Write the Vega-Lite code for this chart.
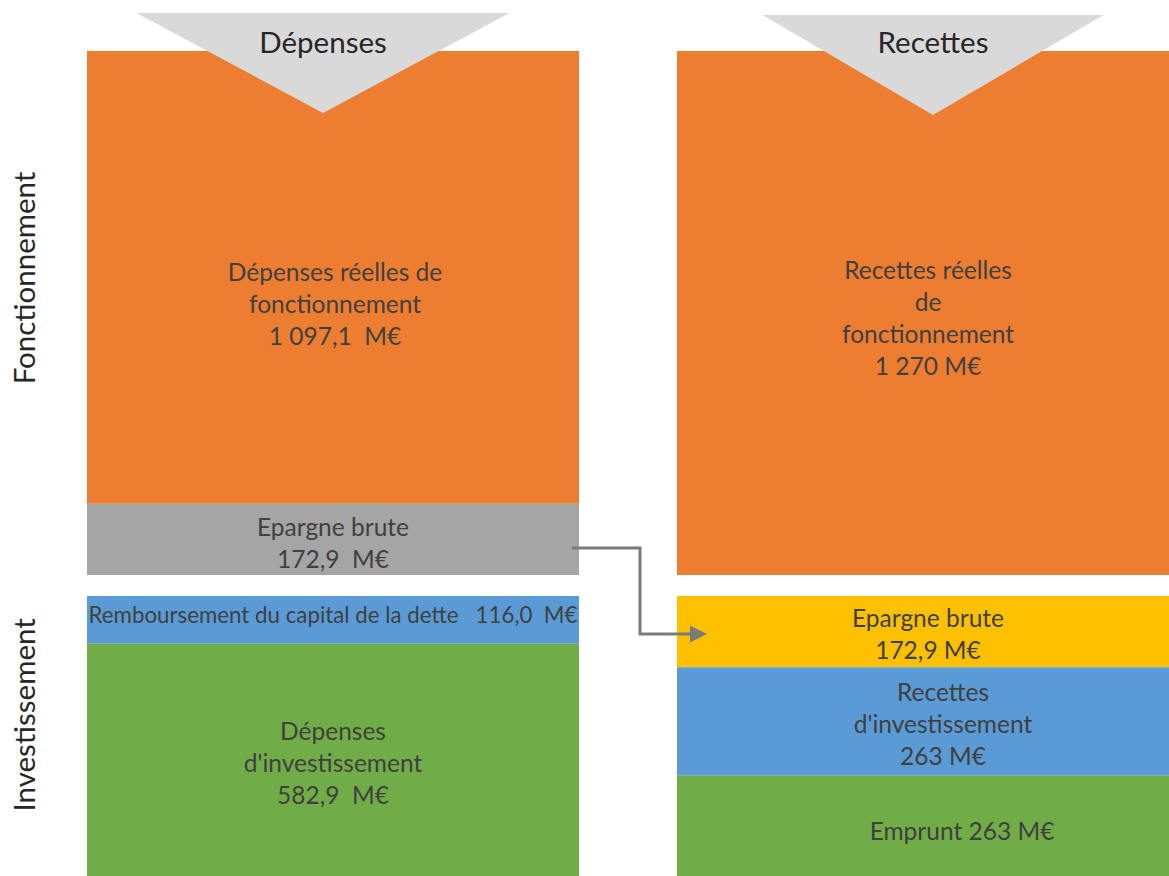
{
  "$schema": "https://vega.github.io/schema/vega-lite/v6.json",
  "width": 1082,
  "height": 825,
  "autosize": {"type": "none"},
  "padding": {"left": 87, "top": 51, "right": 0, "bottom": 0},
  "background": "white",
  "config": {"view": {"stroke": null}, "font": "Lato"},
  "datasets": {
    "postes": [
      {"side": "Dépenses", "section": "Fonctionnement", "poste": "Dépenses réelles de fonctionnement", "value": 1097.1, "rank": 1, "label": "Dépenses réelles de\nfonctionnement\n1 097,1 \u00a0M€"},
      {"side": "Dépenses", "section": "Fonctionnement", "poste": "Epargne brute", "value": 172.9, "rank": 2, "label": "Epargne brute\n172,9 \u00a0M€"},
      {"side": "Recettes", "section": "Fonctionnement", "poste": "Recettes réelles de fonctionnement", "value": 1270, "rank": 1, "label": "Recettes réelles\nde\nfonctionnement\n1 270 M€"},
      {"side": "Dépenses", "section": "Investissement", "poste": "Remboursement du capital de la dette", "value": 116.0, "rank": 1, "label": "Remboursement du capital de la dette \u00a0\u00a0116,0 \u00a0M€"},
      {"side": "Dépenses", "section": "Investissement", "poste": "Dépenses d'investissement", "value": 582.9, "rank": 2, "label": "Dépenses\nd'investissement\n582,9 \u00a0M€"},
      {"side": "Recettes", "section": "Investissement", "poste": "Epargne brute", "value": 172.9, "rank": 1, "label": "Epargne brute\n172,9 M€"},
      {"side": "Recettes", "section": "Investissement", "poste": "Recettes d'investissement", "value": 263, "rank": 2, "label": "Recettes\nd'investissement\n263 M€"},
      {"side": "Recettes", "section": "Investissement", "poste": "Emprunt", "value": 263, "rank": 3, "label": "Emprunt 263 M€"}
    ],
    "entetes": [{"side": "Dépenses"}, {"side": "Recettes"}],
    "sections": [{"section": "Fonctionnement"}, {"section": "Investissement"}],
    "flux": [{"from": "Dépenses", "to": "Recettes", "poste": "Epargne brute", "value": 172.9}]
  },
  "layer": [
    {
      "layer": [
        {
          "data": {"name": "postes"},
          "transform": [{"filter": "datum.section === 'Fonctionnement'"}],
          "mark": {"type": "bar"},
          "encoding": {
            "x": {"field": "side", "type": "nominal", "scale": {"domain": ["Dépenses", "Recettes"], "paddingInner": 0.1661, "paddingOuter": 0}, "axis": null},
            "y": {"field": "value", "type": "quantitative", "stack": "zero", "scale": {"domain": [-729.5, 1270], "nice": false, "zero": false}, "axis": null},
            "order": {"field": "rank", "type": "quantitative", "sort": "descending"},
            "color": {
              "condition": {"test": "datum.side === 'Recettes' && datum.poste === 'Epargne brute'", "value": "#FFC000"},
              "field": "poste", "type": "nominal", "legend": null,
              "scale": {
                "domain": ["Dépenses réelles de fonctionnement", "Epargne brute", "Recettes réelles de fonctionnement", "Remboursement du capital de la dette", "Dépenses d'investissement", "Recettes d'investissement", "Emprunt"],
                "range": ["#ED7D31", "#A5A5A5", "#ED7D31", "#5B9BD5", "#70AD47", "#5B9BD5", "#70AD47"]
              }
            }
          }
        },
        {
          "data": {"name": "entetes"},
          "mark": {"type": "point", "filled": true, "opacity": 1, "size": 4, "strokeWidth": 0, "color": "#D9D9D9"},
          "encoding": {
            "x": {"field": "side", "type": "nominal", "scale": {"domain": ["Dépenses", "Recettes"], "paddingInner": 0.1661, "paddingOuter": 0}, "axis": null},
            "y": {"datum": 1270, "type": "quantitative", "scale": {"domain": [-729.5, 1270], "nice": false, "zero": false}, "axis": null},
            "shape": {"condition": {"test": "datum.side === 'Dépenses'", "value": "M-196.5,-38L176.5,-38L-10,62Z"}, "value": "M-160.5,-36L180.5,-36L10,64Z"}
          }
        },
        {
          "data": {"name": "entetes"},
          "transform": [{"filter": "datum.side === 'Dépenses'"}],
          "mark": {"type": "text", "fontSize": 29.5, "color": "#262626", "baseline": "alphabetic", "align": "center", "dx": -10, "dy": 2},
          "encoding": {
            "x": {"field": "side", "type": "nominal", "scale": {"domain": ["Dépenses", "Recettes"], "paddingInner": 0.1661, "paddingOuter": 0}, "axis": null},
            "y": {"datum": 1270, "type": "quantitative", "scale": {"domain": [-729.5, 1270], "nice": false, "zero": false}, "axis": null},
            "text": {"field": "side", "type": "nominal"}
          }
        },
        {
          "data": {"name": "entetes"},
          "transform": [{"filter": "datum.side === 'Recettes'"}],
          "mark": {"type": "text", "fontSize": 29.5, "color": "#262626", "baseline": "alphabetic", "align": "center", "dx": 10, "dy": 2},
          "encoding": {
            "x": {"field": "side", "type": "nominal", "scale": {"domain": ["Dépenses", "Recettes"], "paddingInner": 0.1661, "paddingOuter": 0}, "axis": null},
            "y": {"datum": 1270, "type": "quantitative", "scale": {"domain": [-729.5, 1270], "nice": false, "zero": false}, "axis": null},
            "text": {"field": "side", "type": "nominal"}
          }
        },
        {
          "data": {"name": "postes"},
          "transform": [{"filter": "datum.section === 'Fonctionnement'"}],
          "encoding": {
            "x": {"field": "side", "type": "nominal", "scale": {"domain": ["Dépenses", "Recettes"], "paddingInner": 0.1661, "paddingOuter": 0}, "axis": null},
            "y": {"field": "value", "type": "quantitative", "stack": "zero", "bandPosition": 0.5, "scale": {"domain": [-729.5, 1270], "nice": false, "zero": false}, "axis": null},
            "order": {"field": "rank", "type": "quantitative", "sort": "descending"},
            "detail": {"field": "poste", "type": "nominal"},
            "text": {"field": "label", "type": "nominal"}
          },
          "layer": [
            {
              "mark": {"type": "text", "fontSize": 24.5, "lineHeight": 32, "lineBreak": "\n", "color": "#404040", "align": "center", "baseline": "middle", "dx": 2, "dy": -3.5},
              "encoding": {"opacity": {"condition": {"test": "datum.poste === 'Dépenses réelles de fonctionnement'", "value": 1}, "value": 0}}
            },
            {
              "mark": {"type": "text", "fontSize": 24.5, "lineHeight": 32, "lineBreak": "\n", "color": "#404040", "align": "center", "baseline": "middle", "dx": 0, "dy": -10},
              "encoding": {"opacity": {"condition": {"test": "datum.poste === 'Epargne brute'", "value": 1}, "value": 0}}
            },
            {
              "mark": {"type": "text", "fontSize": 24.5, "lineHeight": 32, "lineBreak": "\n", "color": "#404040", "align": "center", "baseline": "middle", "dx": 5, "dy": -41},
              "encoding": {"opacity": {"condition": {"test": "datum.poste === 'Recettes réelles de fonctionnement'", "value": 1}, "value": 0}}
            }
          ]
        },
        {
          "data": {"name": "sections"},
          "transform": [{"filter": "datum.section === 'Fonctionnement'"}],
          "mark": {"type": "text", "fontSize": 29.5, "color": "#262626", "angle": 270, "align": "center", "baseline": "middle", "xOffset": -61},
          "encoding": {
            "x": {"datum": "Dépenses", "type": "nominal", "bandPosition": 0, "scale": {"domain": ["Dépenses", "Recettes"], "paddingInner": 0.1661, "paddingOuter": 0}, "axis": null},
            "y": {"datum": 720, "type": "quantitative", "scale": {"domain": [-729.5, 1270], "nice": false, "zero": false}, "axis": null},
            "text": {"field": "section", "type": "nominal"}
          }
        }
      ]
    },
    {
      "layer": [
        {
          "data": {"name": "postes"},
          "transform": [{"filter": "datum.section === 'Investissement'"}],
          "mark": {"type": "bar"},
          "encoding": {
            "x": {"field": "side", "type": "nominal", "scale": {"domain": ["Dépenses", "Recettes"], "paddingInner": 0.1661, "paddingOuter": 0}, "axis": null},
            "y": {"field": "value", "type": "quantitative", "stack": "zero", "scale": {"domain": [-1320.9, 678.6], "reverse": true, "nice": false, "zero": false}, "axis": null},
            "order": {"field": "rank", "type": "quantitative", "sort": "ascending"},
            "color": {
              "condition": {"test": "datum.side === 'Recettes' && datum.poste === 'Epargne brute'", "value": "#FFC000"},
              "field": "poste", "type": "nominal", "legend": null,
              "scale": {
                "domain": ["Dépenses réelles de fonctionnement", "Epargne brute", "Recettes réelles de fonctionnement", "Remboursement du capital de la dette", "Dépenses d'investissement", "Recettes d'investissement", "Emprunt"],
                "range": ["#ED7D31", "#A5A5A5", "#ED7D31", "#5B9BD5", "#70AD47", "#5B9BD5", "#70AD47"]
              }
            }
          }
        },
        {
          "data": {"name": "postes"},
          "transform": [{"filter": "datum.section === 'Investissement'"}],
          "encoding": {
            "x": {"field": "side", "type": "nominal", "scale": {"domain": ["Dépenses", "Recettes"], "paddingInner": 0.1661, "paddingOuter": 0}, "axis": null},
            "y": {"field": "value", "type": "quantitative", "stack": "zero", "bandPosition": 0.5, "scale": {"domain": [-1320.9, 678.6], "reverse": true, "nice": false, "zero": false}, "axis": null},
            "order": {"field": "rank", "type": "quantitative", "sort": "ascending"},
            "detail": {"field": "poste", "type": "nominal"},
            "text": {"field": "label", "type": "nominal"}
          },
          "layer": [
            {
              "mark": {"type": "text", "fontSize": 22.3, "color": "#404040", "align": "center", "baseline": "middle", "dx": 0, "dy": -4},
              "encoding": {"opacity": {"condition": {"test": "datum.poste === 'Remboursement du capital de la dette'", "value": 1}, "value": 0}}
            },
            {
              "mark": {"type": "text", "fontSize": 24.5, "lineHeight": 32, "lineBreak": "\n", "color": "#404040", "align": "center", "baseline": "middle", "dx": 0, "dy": -31},
              "encoding": {"opacity": {"condition": {"test": "datum.poste === \"Dépenses d'investissement\"", "value": 1}, "value": 0}}
            },
            {
              "mark": {"type": "text", "fontSize": 24.5, "lineHeight": 32, "lineBreak": "\n", "color": "#404040", "align": "center", "baseline": "middle", "dx": 5, "dy": -12},
              "encoding": {"opacity": {"condition": {"test": "datum.poste === 'Epargne brute'", "value": 1}, "value": 0}}
            },
            {
              "mark": {"type": "text", "fontSize": 24.5, "lineHeight": 32, "lineBreak": "\n", "color": "#404040", "align": "center", "baseline": "middle", "dx": 20, "dy": -27.5},
              "encoding": {"opacity": {"condition": {"test": "datum.poste === \"Recettes d'investissement\"", "value": 1}, "value": 0}}
            },
            {
              "mark": {"type": "text", "fontSize": 24.5, "color": "#404040", "align": "center", "baseline": "middle", "dx": 39, "dy": 3},
              "encoding": {"opacity": {"condition": {"test": "datum.poste === 'Emprunt'", "value": 1}, "value": 0}}
            }
          ]
        },
        {
          "data": {"name": "sections"},
          "transform": [{"filter": "datum.section === 'Investissement'"}],
          "mark": {"type": "text", "fontSize": 29.5, "color": "#262626", "angle": 270, "align": "center", "baseline": "middle", "xOffset": -61},
          "encoding": {
            "x": {"datum": "Dépenses", "type": "nominal", "bandPosition": 0, "scale": {"domain": ["Dépenses", "Recettes"], "paddingInner": 0.1661, "paddingOuter": 0}, "axis": null},
            "y": {"datum": 288, "type": "quantitative", "scale": {"domain": [-1320.9, 678.6], "reverse": true, "nice": false, "zero": false}, "axis": null},
            "text": {"field": "section", "type": "nominal"}
          }
        },
        {
          "data": {"name": "flux"},
          "mark": {"type": "point", "filled": true, "opacity": 1, "size": 4, "strokeWidth": 0, "color": "#7A7A7A",
                   "shape": "M-105,-49.5L-35.5,-49.5L-35.5,36.5L13,36.5L13,29.5L30,38L13,46.5L13,39.5L-38.5,39.5L-38.5,-46.5L-105,-46.5Z"},
          "encoding": {
            "x": {"field": "to", "type": "nominal", "bandPosition": 0, "scale": {"domain": ["Dépenses", "Recettes"], "paddingInner": 0.1661, "paddingOuter": 0}, "axis": null},
            "y": {"datum": 0, "type": "quantitative", "scale": {"domain": [-1320.9, 678.6], "reverse": true, "nice": false, "zero": false}, "axis": null}
          }
        }
      ]
    }
  ],
  "resolve": {"scale": {"y": "independent"}}
}
